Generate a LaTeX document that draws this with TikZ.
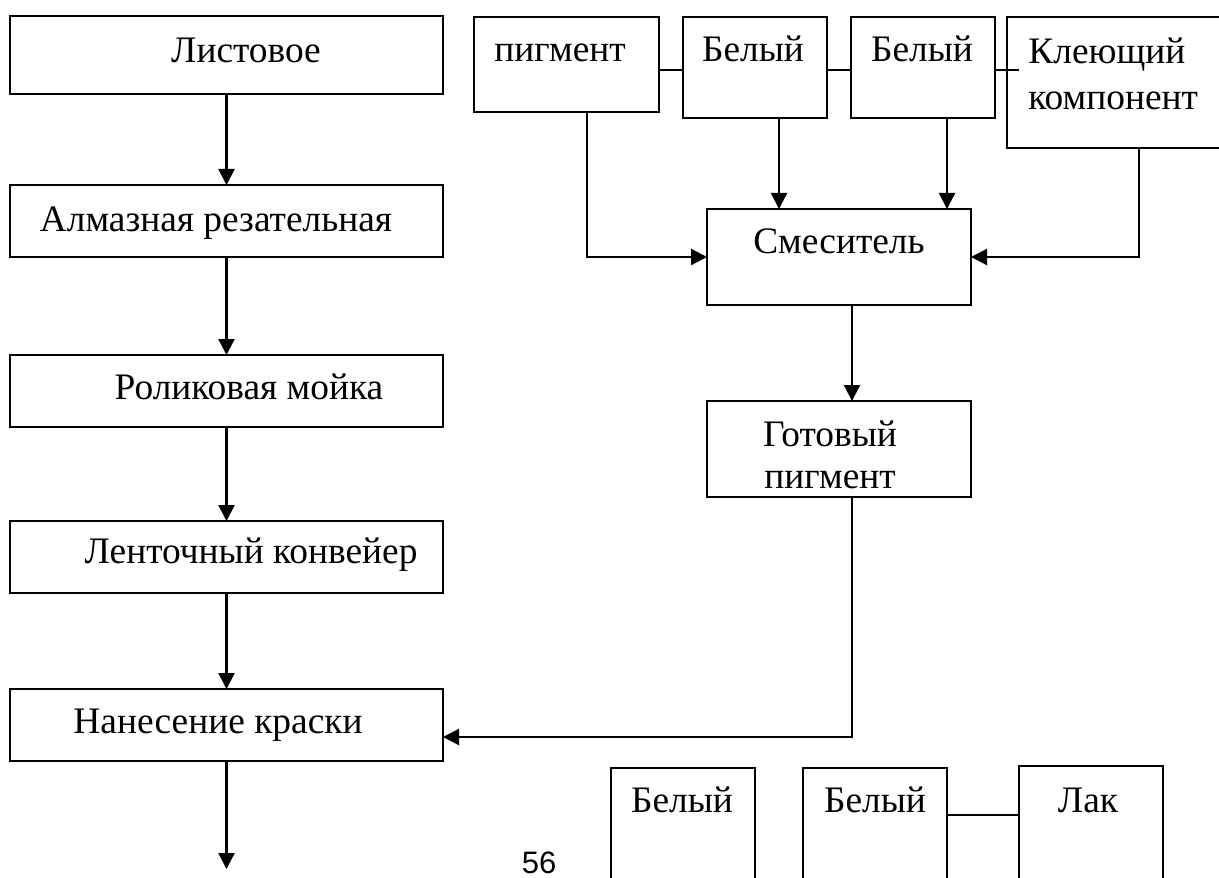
\documentclass[tikz,border=0pt]{standalone}
\usepackage{fontspec}
\setmainfont{Liberation Serif}
\newfontfamily\pagefont{Liberation Sans}
\usetikzlibrary{arrows.meta, fit}

\begin{document}
\begin{tikzpicture}[
    x=0.5pt, y=-0.5pt,
    box/.style={draw=black, line width=1.15pt, inner sep=0pt, outer sep=0pt},
    txt/.style={anchor=base, inner sep=0pt, font=\fontsize{18.7}{21}\selectfont},
    directed/.style={-{Triangle[length=8pt,width=8pt]}, line width=1.15pt},
    link/.style={line width=1.15pt}
]
    \path[use as bounding box, clip] (0,0) rectangle (1219,877);

    % Left column
    \node[box, fit={(10,16) (443,94)}] (list) {};
    \node[box, fit={(10,185) (443,257)}] (almaz) {};
    \node[box, fit={(10,355) (443,427)}] (rolik) {};
    \node[box, fit={(10,521) (443,593)}] (lenta) {};
    \node[box, fit={(10,689) (443,761)}] (nanes) {};
    \coordinate (exit) at (226.5,869);

    \node[txt] (listtxt) at (246,63) {Листовое};
    \node[txt] (almaztxt) at (216,232) {Алмазная резательная};
    \node[txt] (roliktxt) at (249,399) {Роликовая мойка};
    \node[txt] (lentatxt) at (251,563) {Ленточный конвейер};
    \node[txt] (nanestxt) at (218,733) {Нанесение краски};

    % Pigment line
    \node[box, fit={(474,17) (659,112)}] (pig) {};
    \node[box, fit={(683,17) (827,118)}] (bel1) {};
    \node[box, fit={(851,17) (995,118)}] (bel2) {};
    \node[box, fit={(1007,17) (1271,148)}] (klej) {};
    \node[box, fit={(707,209) (971,305)}] (mix) {};
    \node[box, fit={(707,401) (971,497)}] (ready) {};
    \coordinate (tie) at (0,70);

    \node[txt] (pigtxt) at (560,62) {пигмент};
    \node[txt] (bel1txt) at (753,62) {Белый};
    \node[txt] (bel2txt) at (922,62) {Белый};
    \node[txt, anchor=north west, align=left, font=\fontsize{18.7}{23}\selectfont] (klejtxt) at (1028,37) {Клеющий\\компонент};
    \node[txt] (mixtxt) at (839,253) {Смеситель};
    \node[txt, anchor=north, align=center, font=\fontsize{18.7}{21}\selectfont] (readytxt) at (830,420) {Готовый\\пигмент};

    % Bottom row
    \node[box, fit={(611,768) (755,920)}] (bel3) {};
    \node[box, fit={(803,768) (947,920)}] (bel4) {};
    \node[box, fit={(1019,766) (1163,920)}] (lak) {};
    \coordinate (tie2) at (0,815);

    \node[txt] (bel3txt) at (682,812) {Белый};
    \node[txt] (bel4txt) at (875,812) {Белый};
    \node[txt] (laktxt) at (1088,812) {Лак};
    \node[anchor=base, inner sep=0pt, font=\pagefont\fontsize{15.5}{17}\selectfont] (pagenum) at (539,873) {56};

    % Arrows
    \draw[directed] (list) -- (almaz);
    \draw[directed] (almaz) -- (rolik);
    \draw[directed] (rolik) -- (lenta);
    \draw[directed] (lenta) -- (nanes);
    \draw[directed] (nanes) -- (exit);

    \draw[directed] ([xshift=10.25pt]pig.south) |- (mix.west);
    \draw[directed] ([xshift=12pt]bel1.south) -- ([xshift=12pt]bel1.south |- mix.north);
    \draw[directed] ([xshift=12pt]bel2.south) -- ([xshift=12pt]bel2.south |- mix.north);
    \draw[directed] (klej.south) |- (mix.east);
    \draw[directed] ([xshift=6.5pt]mix.south) -- ([xshift=6.5pt]mix.south |- ready.north);
    \draw[directed] ([xshift=6.5pt]ready.south) |- ([yshift=-6pt]nanes.east);

    % Plain links
    \draw[link] (pig.east |- tie) -- (bel1.west |- tie);
    \draw[link] (bel1.east |- tie) -- (bel2.west |- tie);
    \draw[link] (bel2.east |- tie) -- ([xshift=6pt]klej.west |- tie);
    \draw[link] (bel4.east |- tie2) -- (lak.west |- tie2);
\end{tikzpicture}
\end{document}
